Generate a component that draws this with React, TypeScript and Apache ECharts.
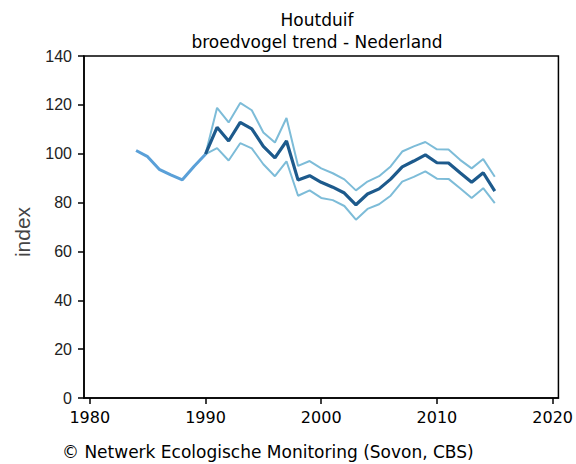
import React, { useEffect, useRef } from "react";
import * as echarts from "echarts";

const earlyYears = [1984, 1985, 1986, 1987, 1988, 1989, 1990];
const earlyValues = [101.3, 98.8, 93.6, 91.3, 89.3, 94.8, 99.8];

const trendYears = [
  1990, 1991, 1992, 1993, 1994, 1995, 1996, 1997, 1998, 1999, 2000, 2001, 2002,
  2003, 2004, 2005, 2006, 2007, 2008, 2009, 2010, 2011, 2012, 2013, 2014, 2015,
];
const centerValues = [
  99.8, 110.8, 105.2, 112.8, 110.2, 103, 98.3, 105.2, 89.2, 91, 88.3, 86.3, 83.9,
  79.1, 83.5, 85.6, 89.6, 94.6, 97, 99.5, 96.3, 96.2, 92.2, 88.3, 92.2, 84.7,
];
const upperValues = [
  99.8, 118.8, 112.8, 120.8, 117.8, 108.7, 104.6, 114.6, 95, 97, 94, 92, 89.5,
  85, 88.6, 90.8, 94.8, 100.9, 103, 104.8, 101.8, 101.7, 97.5, 94, 97.8, 90.6,
];
const lowerValues = [
  99.8, 102.3, 97.2, 104.3, 102.2, 95.7, 90.8, 96.9, 82.8, 85, 81.9, 81, 78.6,
  73, 77.4, 79.3, 82.8, 88.6, 90.5, 92.8, 89.8, 89.7, 85.9, 81.9, 85.9, 79.8,
];

const xTickValues = [1980, 1990, 2000, 2010, 2020];
const yTickInterval = 20;

const titleLine1 = "Houtduif";
const titleLine2 = "broedvogel trend - Nederland";
const footerText = "\u00A9 Netwerk Ecologische Monitoring (Sovon, CBS)";
const yAxisName = "index";

function pairs(xs: number[], ys: number[]) {
  return xs.map((x, i) => [x, ys[i]]);
}

export default function App() {
  const ref = useRef<HTMLDivElement>(null);
  useEffect(() => {
    if (!ref.current) return;
    const chart = echarts.init(ref.current, null, { renderer: "svg" });
    const lineFont = "DejaVu Sans";
    chart.setOption({
      animation: false,
      backgroundColor: "#ffffff",
      grid: {
        left: 84,
        right: 14,
        top: 56,
        bottom: 66,
        show: true,
        borderColor: "#000",
        borderWidth: 1.5,
        containLabel: false,
      },
      graphic: [
        {
          type: "text",
          x: 317,
          y: 20,
          style: {
            text: titleLine1,
            textAlign: "center",
            textVerticalAlign: "middle",
            fontFamily: lineFont,
            fontSize: 17,
            fill: "#000",
          },
        },
        {
          type: "text",
          x: 317,
          y: 42,
          style: {
            text: titleLine2,
            textAlign: "center",
            textVerticalAlign: "middle",
            fontFamily: lineFont,
            fontSize: 17,
            fill: "#000",
          },
        },
        {
          type: "text",
          x: 62,
          y: 452,
          style: {
            text: footerText,
            textAlign: "left",
            textVerticalAlign: "middle",
            fontFamily: lineFont,
            fontSize: 17,
            fill: "#000",
          },
        },
        {
          type: "text",
          x: 22,
          y: 232,
          rotation: Math.PI / 2,
          style: {
            text: yAxisName,
            textAlign: "center",
            textVerticalAlign: "middle",
            fontFamily: "Liberation Sans",
            fontSize: 21,
            fill: "#444",
          },
        },
      ],
      xAxis: {
        type: "value",
        min: 1979.5,
        max: 2020.5,
        axisLine: { show: true, lineStyle: { color: "#000", width: 1.5 } },
        axisTick: {
          show: true,
          length: 6,
          customValues: xTickValues,
          lineStyle: { color: "#000", width: 1.5 },
        },
        axisLabel: {
          customValues: xTickValues,
          formatter: (v: number) => String(v),
          margin: 11,
          fontFamily: lineFont,
          fontSize: 16,
          color: "#000",
        },
        splitLine: { show: false },
      },
      yAxis: {
        type: "value",
        min: 0,
        max: 140,
        interval: yTickInterval,
        axisLine: { show: true, lineStyle: { color: "#000", width: 1.5 } },
        axisTick: { show: true, length: 6, lineStyle: { color: "#000", width: 1.5 } },
        axisLabel: {
          margin: 12,
          fontFamily: "Liberation Sans",
          fontSize: 16,
          color: "#222",
        },
        splitLine: { show: false },
      },
      series: [
        {
          type: "line",
          data: pairs(trendYears, upperValues),
          showSymbol: false,
          lineStyle: { color: "#7dbcd8", width: 2 },
          z: 2,
        },
        {
          type: "line",
          data: pairs(trendYears, lowerValues),
          showSymbol: false,
          lineStyle: { color: "#7dbcd8", width: 2 },
          z: 2,
        },
        {
          type: "line",
          data: pairs(earlyYears, earlyValues),
          showSymbol: false,
          lineStyle: { color: "#5aa0d8", width: 3 },
          z: 3,
        },
        {
          type: "line",
          data: pairs(trendYears, centerValues),
          showSymbol: false,
          lineStyle: { color: "#1d5a8c", width: 3.2 },
          z: 4,
        },
      ],
    });
    return () => chart.dispose();
  }, []);
  return (
    <div
      ref={ref}
      style={{ position: "fixed", left: 0, top: 0, width: 576, height: 464 }}
    />
  );
}
